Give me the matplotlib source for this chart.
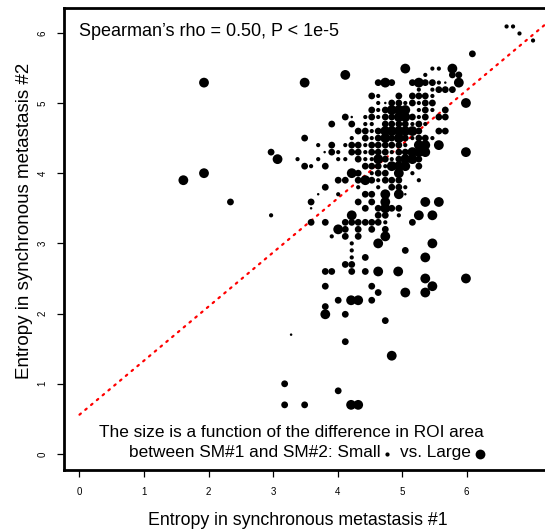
import numpy as np
import matplotlib
matplotlib.use("Agg")
import matplotlib.pyplot as plt

plt.rcParams['font.family'] = ['Liberation Sans', 'DejaVu Sans']

# entropy in SM#1 (x), SM#2 (y), size class of ROI area difference (1 small .. 4 large)
entropy_sm1 = [
    6.62, 6.72,
    6.82,
    7.03,
    6.09,
    5.05, 5.47, 5.57, 5.78,
    4.12, 5.36, 5.78, 5.88,
    1.93, 3.49, 4.63, 4.74, 4.84, 5.16, 5.26, 5.36, 5.47, 5.57, 5.67, 5.88,
    5.26, 5.47, 5.57, 5.67, 5.78,
    4.53, 4.63, 4.95, 5.16, 5.26, 5.36, 5.47,
    4.63, 4.74, 4.84, 4.95, 5.05, 5.16, 5.26, 5.36, 5.47, 5.99,
    4.53, 4.63, 4.74, 4.84, 4.95, 5.05, 5.26, 5.36, 5.47, 5.67,
    4.12, 4.22, 4.43, 4.53, 4.63, 4.74, 4.84, 4.95, 5.05, 5.16, 5.26, 5.36, 5.57, 5.67,
    3.91, 4.22, 4.43, 4.53, 4.74, 4.84, 4.95, 5.05, 5.16, 5.26, 5.36,
    4.32, 4.43, 4.53, 4.63, 4.74, 4.84, 4.95, 5.05, 5.16, 5.26, 5.57, 5.67,
    3.49, 4.22, 4.43, 4.53, 4.63, 4.74, 4.84, 4.95, 5.05, 5.16, 5.26, 5.36, 5.47,
    3.70, 3.91, 4.12, 4.22, 4.32, 4.43, 4.53, 4.63, 4.74, 4.84, 4.95, 5.05, 5.26, 5.36, 5.57,
    2.97, 3.80, 3.91, 4.01, 4.22, 4.32, 4.43, 4.53, 4.63, 4.74, 4.84, 4.95, 5.05, 5.16, 5.26, 5.36, 5.99,
    3.07, 3.38, 3.70, 4.01, 4.12, 4.32, 4.43, 4.53, 4.63, 4.74, 4.84, 4.95, 5.05, 5.16, 5.26,
    3.49, 3.59, 3.81, 4.43, 4.53, 4.63, 4.74, 4.84, 4.95, 5.05, 5.26,
    1.93, 4.22, 4.32, 4.53, 4.63, 4.74, 4.95, 5.16,
    1.61, 4.01, 4.12, 4.32, 4.43, 4.53, 4.63, 4.74, 4.84, 4.95, 5.26,
    3.81, 4.32, 4.63, 4.84, 4.95, 5.05,
    3.70, 4.01, 4.43, 4.53, 4.74, 4.95, 5.05,
    2.34, 3.59, 4.32, 4.53, 4.74, 5.36, 5.57,
    3.59, 4.43, 4.63, 4.74, 4.84, 4.95,
    2.97, 4.22, 4.63, 4.74, 4.95, 5.26, 5.47,
    3.59, 3.81, 4.12, 4.22, 4.32, 4.43, 4.53, 4.63, 4.74, 5.16,
    4.01, 4.12, 4.32, 4.53, 4.74,
    3.91, 4.12, 4.32, 4.74,
    4.22, 4.63, 5.47,
    4.22, 5.05,
    4.22, 4.43, 5.36,
    4.12, 4.22,
    3.81, 3.91, 4.22, 4.43, 4.63, 4.94,
    5.36, 5.99,
    3.81, 4.53, 5.47,
    4.63, 5.05, 5.36,
    4.01, 4.21, 4.32, 4.53,
    3.81,
    3.81, 4.12,
    4.74,
    3.28,
    4.12,
    4.84,
    3.18,
    4.01,
    3.18, 3.49, 4.21, 4.32,
]

entropy_sm2 = (
    [6.09] * 2 + [5.99] * 1 + [5.89] * 1 + [5.70] * 1 + [5.49] * 4 + [5.40] * 4
    + [5.29] * 12 + [5.19] * 5 + [5.10] * 7 + [5.00] * 10 + [4.90] * 10
    + [4.80] * 14 + [4.70] * 11 + [4.60] * 12 + [4.50] * 13 + [4.40] * 15
    + [4.30] * 17 + [4.20] * 15 + [4.10] * 11 + [4.00] * 8 + [3.90] * 11
    + [3.80] * 6 + [3.70] * 7 + [3.59] * 7 + [3.50] * 6 + [3.40] * 7
    + [3.30] * 10 + [3.20] * 5 + [3.10] * 4 + [3.00] * 3 + [2.90] * 2
    + [2.80] * 3 + [2.70] * 2 + [2.60] * 6 + [2.50] * 2 + [2.39] * 3
    + [2.30] * 3 + [2.19] * 4 + [2.10] * 1 + [1.99] * 2 + [1.90] * 1
    + [1.70] * 1 + [1.60] * 1 + [1.40] * 1 + [1.00] * 1 + [0.90] * 1 + [0.70] * 4
)

area_diff = [
    2, 2,
    2,
    2,
    3,
    4, 2, 2, 4,
    4, 2, 3, 3,
    4, 4, 3, 4, 3, 3, 4, 3, 3, 2, 1, 4,
    2, 2, 3, 3, 3,
    3, 2, 3, 3, 3, 3, 2,
    2, 1, 3, 3, 2, 3, 2, 3, 3, 4,
    3, 2, 3, 4, 4, 4, 2, 3, 2, 3,
    3, 1, 2, 3, 2, 3, 3, 4, 4, 3, 2, 3, 3, 3,
    3, 3, 2, 2, 3, 3, 3, 3, 2, 3, 2,
    3, 3, 2, 3, 4, 4, 4, 4, 4, 3, 3, 3,
    3, 2, 3, 2, 3, 4, 3, 4, 3, 2, 3, 3, 2,
    2, 3, 2, 3, 3, 2, 3, 3, 3, 3, 3, 2, 4, 4, 4,
    3, 1, 3, 2, 3, 3, 2, 3, 3, 3, 2, 3, 3, 4, 4, 4, 4,
    4, 2, 2, 2, 2, 3, 2, 2, 4, 3, 2, 3, 4, 4, 3,
    3, 2, 3, 3, 3, 3, 2, 4, 4, 4, 3,
    4, 4, 3, 2, 3, 3, 4, 2,
    4, 3, 3, 3, 4, 3, 2, 3, 3, 3, 2,
    3, 2, 2, 3, 3, 2,
    1, 2, 3, 3, 4, 4, 1,
    3, 3, 3, 3, 4, 4, 4,
    1, 3, 3, 4, 3, 3,
    2, 4, 3, 3, 2, 4, 4,
    3, 3, 3, 3, 3, 3, 3, 3, 2, 3,
    4, 3, 3, 3, 3,
    2, 3, 3, 4,
    2, 4, 4,
    2, 3,
    2, 3, 4,
    3, 3,
    3, 3, 3, 3, 4, 4,
    4, 4,
    3, 3, 4,
    3, 4, 4,
    3, 4, 4, 3,
    3,
    4, 3,
    3,
    1,
    3,
    4,
    3,
    3,
    3, 3, 4, 4,
]

fit_intercept = 0.56
fit_slope = 0.77

# marker diameter (px) for each size class
diam_px = {1: 2.5, 2: 4.2, 3: 6.8, 4: 9.8}

fig = plt.figure(figsize=(5.45, 5.29), dpi=100)
ax = fig.add_axes([64 / 545, 1 - 470 / 529, 500 / 545, 462 / 529])

sizes = [(diam_px[c] * 0.72) ** 2 for c in area_diff]
ax.scatter(entropy_sm1, entropy_sm2, s=sizes, c='black', linewidths=0, zorder=3)

xl = np.array([0.0, 7.6])
ax.plot(xl, fit_intercept + fit_slope * xl, color='red', lw=1.6,
        linestyle=(0, (0.8, 2.6)), dash_capstyle='round', zorder=2)

ax.set_xlim(-0.24, 7.51)
ax.set_ylim(-0.228, 6.353)
ax.set_xticks(range(0, 7))
ax.set_yticks(range(0, 7))
ax.tick_params(axis='both', direction='out', length=5, width=0.9, labelsize=7, pad=7)
for lab in ax.get_yticklabels():
    lab.set_rotation(90)
    lab.set_va('center')
for sp in ax.spines.values():
    sp.set_linewidth(2.0)

ax.set_xlabel('Entropy in synchronous metastasis #1', fontsize=12.8)
ax.xaxis.set_label_coords(0.468, -0.09)
ax.set_ylabel('Entropy in synchronous metastasis #2', fontsize=13.5)
ax.yaxis.set_label_coords(-0.062, 0.54)

ax.text(0.0, 6.02, 'Spearman\u2019s rho = 0.50, P < 1e-5', fontsize=13,
        ha='left', va='center')
ax.text(6.27, 0.30, 'The size is a function of the difference in ROI area',
        fontsize=12.4, ha='right', va='center')
ax.text(4.66, 0.015, 'between SM#1 and SM#2: Small', fontsize=12.4,
        ha='right', va='center')
ax.scatter([4.77], [0.0], s=(4.2 * 0.72) ** 2, c='black', linewidths=0)
ax.text(4.97, 0.015, 'vs. Large', fontsize=12.4, ha='left', va='center')
ax.scatter([6.21], [0.0], s=(9.8 * 0.72) ** 2, c='black', linewidths=0)

plt.savefig('out.png', dpi=100)
